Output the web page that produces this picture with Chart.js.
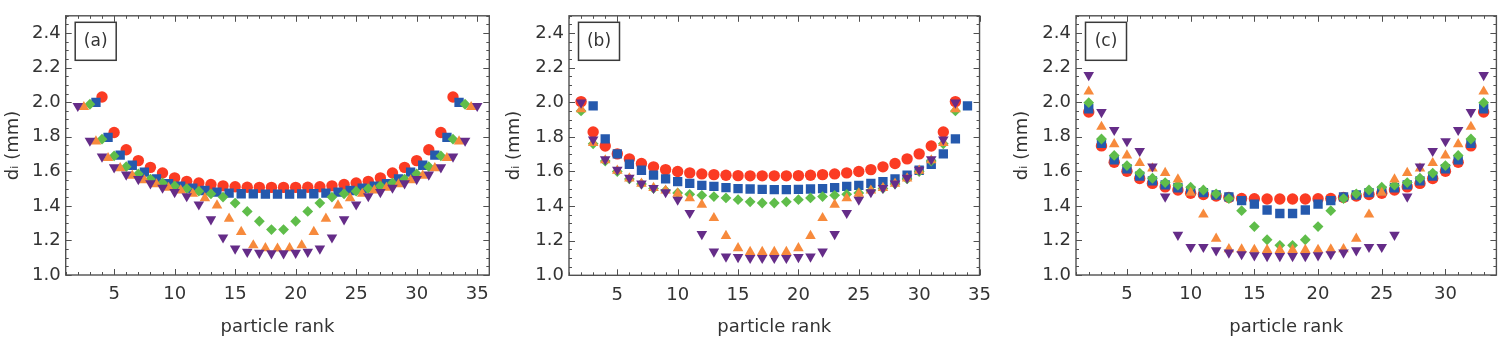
<!DOCTYPE html>
<html>
<head>
<meta charset="utf-8">
<script src="https://cdn.jsdelivr.net/npm/chart.js@4.4.1/dist/chart.umd.min.js"></script>
<style>
  html, body { margin: 0; padding: 0; background: #fff; }
  #wrap { position: relative; width: 1503px; height: 341px; overflow: hidden; }
  .panel { position: absolute; top: 0; height: 341px; }
</style>
</head>
<body>
<div id="wrap">
  <div class="panel" style="left:0"><canvas id="chA" width="500" height="341"></canvas></div>
  <div class="panel" style="left:500px"><canvas id="chB" width="500" height="341"></canvas></div>
  <div class="panel" style="left:1000px"><canvas id="chC" width="503" height="341"></canvas></div>
</div>
<script>
// ============================
// Data
// ============================
// panel (a): each series has a different particle count, centred on rank 18.5
const xA_red    = [4,5,6,7,8,9,10,11,12,13,14,15,16,17,18,19,20,21,22,23,24,25,26,27,28,29,30,31,32,33];
const yA_red    = [2.030,1.825,1.725,1.662,1.623,1.590,1.562,1.542,1.532,1.524,1.516,1.511,1.508,1.507,1.507,
                   1.507,1.507,1.508,1.511,1.516,1.524,1.532,1.542,1.562,1.590,1.623,1.662,1.725,1.825,2.030];
const xA_blue   = [3.5,4.5,5.5,6.5,7.5,8.5,9.5,10.5,11.5,12.5,13.5,14.5,15.5,16.5,17.5,18.5,
                   19.5,20.5,21.5,22.5,23.5,24.5,25.5,26.5,27.5,28.5,29.5,30.5,31.5,32.5,33.5];
const yA_blue   = [1.999,1.796,1.694,1.635,1.595,1.556,1.528,1.514,1.502,1.489,1.480,1.474,1.470,1.469,1.468,1.468,
                   1.468,1.469,1.470,1.474,1.480,1.489,1.502,1.514,1.528,1.556,1.595,1.635,1.694,1.796,1.999];
const xA_green  = [3,4,5,6,7,8,9,10,11,12,13,14,15,16,17,18,19,20,21,22,23,24,25,26,27,28,29,30,31,32,33,34];
const yA_green  = [1.988,1.786,1.689,1.627,1.585,1.555,1.533,1.515,1.500,1.485,1.470,1.451,1.416,1.368,1.311,1.263,
                   1.263,1.311,1.368,1.416,1.451,1.470,1.485,1.500,1.515,1.533,1.555,1.585,1.627,1.689,1.786,1.988];
const xA_orange = [2.5,3.5,4.5,5.5,6.5,7.5,8.5,9.5,10.5,11.5,12.5,13.5,14.5,15.5,16.5,17.5,18.5,
                   19.5,20.5,21.5,22.5,23.5,24.5,25.5,26.5,27.5,28.5,29.5,30.5,31.5,32.5,33.5,34.5];
const yA_orange = [1.972,1.773,1.677,1.618,1.575,1.548,1.525,1.505,1.490,1.470,1.445,1.403,1.326,1.249,1.172,1.155,1.153,
                   1.155,1.172,1.249,1.326,1.403,1.445,1.470,1.490,1.505,1.525,1.548,1.575,1.618,1.677,1.773,1.972];
const xA_purple = [2,3,4,5,6,7,8,9,10,11,12,13,14,15,16,17,18,19,20,21,22,23,24,25,26,27,28,29,30,31,32,33,34,35];
const yA_purple = [1.978,1.777,1.685,1.623,1.581,1.555,1.530,1.505,1.480,1.456,1.408,1.322,1.217,1.153,1.134,1.128,1.125,
                   1.125,1.128,1.134,1.153,1.217,1.322,1.408,1.456,1.480,1.505,1.530,1.555,1.581,1.623,1.685,1.777,1.978];

// panel (b): blue squares sit one rank to the right of the others
const xB        = [2,3,4,5,6,7,8,9,10,11,12,13,14,15,16,17,18,19,20,21,22,23,24,25,26,27,28,29,30,31,32,33];
const xB_blue   = [3,4,5,6,7,8,9,10,11,12,13,14,15,16,17,18,19,20,21,22,23,24,25,26,27,28,29,30,31,32,33,34];
const yB_red    = [2.004,1.828,1.747,1.702,1.673,1.646,1.627,1.611,1.600,1.592,1.586,1.582,1.578,1.576,1.575,1.575,
                   1.575,1.575,1.576,1.578,1.582,1.586,1.592,1.600,1.611,1.627,1.646,1.673,1.702,1.747,1.828,2.004];
const yB_blue   = [1.979,1.789,1.702,1.642,1.607,1.579,1.557,1.541,1.531,1.520,1.514,1.507,1.501,1.499,1.497,1.495,
                   1.495,1.497,1.499,1.501,1.507,1.514,1.520,1.531,1.541,1.557,1.579,1.607,1.642,1.702,1.789,1.979];
const yB_green  = [1.950,1.760,1.660,1.600,1.557,1.528,1.502,1.489,1.476,1.468,1.462,1.455,1.447,1.437,1.425,1.418,
                   1.418,1.425,1.437,1.447,1.455,1.462,1.468,1.476,1.489,1.502,1.528,1.557,1.600,1.660,1.760,1.950];
const yB_orange = [1.960,1.765,1.665,1.605,1.560,1.530,1.505,1.490,1.472,1.445,1.408,1.331,1.228,1.157,1.135,1.135,
                   1.135,1.135,1.157,1.228,1.331,1.408,1.445,1.472,1.490,1.505,1.530,1.560,1.605,1.665,1.765,1.960];
const yB_purple = [1.998,1.785,1.670,1.610,1.563,1.530,1.505,1.480,1.437,1.360,1.238,1.137,1.108,1.105,1.100,1.100,
                   1.100,1.100,1.105,1.108,1.137,1.238,1.360,1.437,1.480,1.505,1.530,1.563,1.610,1.670,1.785,1.998];

// panel (c)
const xC        = [2,3,4,5,6,7,8,9,10,11,12,13,14,15,16,17,18,19,20,21,22,23,24,25,26,27,28,29,30,31,32,33];
const yC_red    = [1.943,1.747,1.652,1.600,1.558,1.530,1.510,1.492,1.473,1.466,1.457,1.449,1.443,1.441,1.440,1.440,
                   1.440,1.440,1.441,1.443,1.449,1.457,1.466,1.473,1.492,1.510,1.530,1.558,1.600,1.652,1.747,1.943];
const yC_blue   = [1.962,1.762,1.667,1.615,1.572,1.545,1.522,1.505,1.487,1.477,1.463,1.452,1.430,1.410,1.376,1.356,
                   1.356,1.376,1.410,1.430,1.452,1.463,1.477,1.487,1.505,1.522,1.545,1.572,1.615,1.667,1.762,1.962];
const yC_green  = [1.997,1.787,1.692,1.633,1.590,1.560,1.535,1.520,1.508,1.492,1.470,1.442,1.372,1.280,1.204,1.172,
                   1.172,1.204,1.280,1.372,1.442,1.470,1.492,1.508,1.520,1.535,1.560,1.590,1.633,1.692,1.787,1.997];
const yC_orange = [2.062,1.858,1.757,1.692,1.648,1.617,1.591,1.553,1.476,1.350,1.210,1.150,1.148,1.146,1.145,1.145,
                   1.145,1.145,1.146,1.148,1.150,1.210,1.350,1.476,1.553,1.591,1.617,1.648,1.692,1.757,1.858,2.062];
const yC_purple = [2.157,1.943,1.839,1.774,1.718,1.628,1.454,1.232,1.162,1.162,1.143,1.130,1.120,1.114,1.109,1.109,
                   1.109,1.109,1.114,1.120,1.130,1.143,1.162,1.162,1.232,1.454,1.628,1.718,1.774,1.839,1.943,2.157];

// ticks
const xTicksAB = [5, 10, 15, 20, 25, 30, 35];
const xTicksC  = [5, 10, 15, 20, 25, 30];
const yTicks   = [1.0, 1.2, 1.4, 1.6, 1.8, 2.0, 2.2, 2.4];

// ============================
// Styles
// ============================
const FONT = "'DejaVu Sans', sans-serif";
const TEXT = "#333";
const LINE = "#505050";

const C_RED = "#fb3b23";
const C_BLUE = "#2559ad";
const C_GREEN = "#5fbd4a";
const C_ORANGE = "#f78a3c";
const C_PURPLE = "#652c88";

// frame + inward ticks on all four sides + the "(a)" box
const frameTicks = {
    id: "frameTicks",
    afterDraw(chart, args, opts) {
        const { ctx, chartArea: a, scales: { x, y } } = chart;
        ctx.save();
        ctx.strokeStyle = LINE;
        ctx.lineWidth = 1;
        ctx.beginPath();
        for (let v = Math.ceil(x.min); v <= x.max; v++) {
            const px = Math.round(x.getPixelForValue(v)) + 0.5;
            const len = (v % 5 === 0) ? 6 : 3;
            ctx.moveTo(px, a.bottom); ctx.lineTo(px, a.bottom - len);
            ctx.moveTo(px, a.top); ctx.lineTo(px, a.top + len);
        }
        for (let k = 20; k <= 50; k++) {
            const py = Math.round(y.getPixelForValue(k * 0.05)) + 0.5;
            const len = (k % 4 === 0) ? 6 : 3;
            ctx.moveTo(a.left, py); ctx.lineTo(a.left + len, py);
            ctx.moveTo(a.right, py); ctx.lineTo(a.right - len, py);
        }
        ctx.stroke();

        ctx.lineWidth = 1.4;
        ctx.strokeRect(a.left, a.top, a.right - a.left, a.bottom - a.top);

        // panel label
        const bx = a.left + 9.5, by = a.top + 6.5, bw = 41, bh = 38;
        ctx.strokeStyle = "#3a3a3a";
        ctx.lineWidth = 1.5;
        ctx.strokeRect(bx, by, bw, bh);
        ctx.fillStyle = TEXT;
        ctx.font = "17px " + FONT;
        ctx.textAlign = "center";
        ctx.textBaseline = "middle";
        ctx.fillText(opts.label, bx + bw / 2, by + bh / 2);
        ctx.restore();
    }
};

function mkSet(xs, ys, color, style, radius, rotation) {
    return {
        data: xs.map((x, i) => ({ x: x, y: ys[i] })),
        backgroundColor: color,
        borderColor: color,
        borderWidth: 0,
        pointStyle: style,
        pointRadius: radius,
        pointHoverRadius: radius,
        pointRotation: rotation || 0,
        showLine: false
    };
}

// top of the list is drawn last (on top)
function seriesSet(xP, yP, xO, yO, xG, yG, xBl, yBl, xR, yR) {
    return [
        mkSet(xP, yP, C_PURPLE, "triangle", 6.1, 180),
        mkSet(xO, yO, C_ORANGE, "triangle", 6.1, 0),
        mkSet(xG, yG, C_GREEN, "rectRot", 5.4, 0),
        mkSet(xBl, yBl, C_BLUE, "rect", 6.6, 0),
        mkSet(xR, yR, C_RED, "circle", 5.7, 0)
    ];
}

function makePanel(id, p, datasets) {
    new Chart(document.getElementById(id), {
        type: "scatter",
        data: { datasets: datasets },
        plugins: [frameTicks],
        options: {
            responsive: false,
            animation: false,
            events: [],
            layout: { padding: { left: 0, top: p.top, right: p.w - p.right, bottom: 0 } },
            plugins: {
                legend: { display: false },
                tooltip: { enabled: false },
                frameTicks: { label: p.label }
            },
            scales: {
                x: {
                    type: "linear",
                    min: p.xMin,
                    max: p.xMax,
                    grid: { display: false, drawTicks: false },
                    border: { display: false },
                    afterBuildTicks: s => { s.ticks = p.xTicks.map(v => ({ value: v })); },
                    afterFit: s => { s.height = 341 - p.bottom; },
                    ticks: {
                        font: { family: FONT, size: 18 },
                        color: TEXT,
                        padding: 9,
                        maxRotation: 0,
                        autoSkip: false,
                        callback: v => String(v)
                    },
                    title: {
                        display: true,
                        text: "particle rank",
                        font: { family: FONT, size: 18 },
                        color: TEXT,
                        padding: { top: 0, bottom: 3 }
                    }
                },
                y: {
                    type: "linear",
                    min: 1.0,
                    max: 2.5,
                    grid: { display: false, drawTicks: false },
                    border: { display: false },
                    afterBuildTicks: s => { s.ticks = yTicks.map(v => ({ value: v })); },
                    afterFit: s => { s.width = p.left; },
                    ticks: {
                        font: { family: FONT, size: 18 },
                        color: TEXT,
                        padding: 5,
                        autoSkip: false,
                        callback: v => Number(v).toFixed(1)
                    },
                    title: {
                        display: true,
                        text: "dᵢ (mm)",
                        font: { family: FONT, size: 18 },
                        color: TEXT,
                        padding: { top: p.titlePad, bottom: 0 }
                    }
                }
            }
        }
    });
}

makePanel("chA",
    { w: 500, left: 65.7, right: 489.3, top: 12.7, bottom: 275, xMin: 1, xMax: 36, xTicks: xTicksAB, label: "(a)", titlePad: 3 },
    seriesSet(xA_purple, yA_purple, xA_orange, yA_orange, xA_green, yA_green, xA_blue, yA_blue, xA_red, yA_red));

makePanel("chB",
    { w: 500, left: 69, right: 485, top: 15.7, bottom: 275.3, xMin: 1, xMax: 35, xTicks: xTicksAB, label: "(b)", titlePad: 4 },
    seriesSet(xB, yB_purple, xB, yB_orange, xB, yB_green, xB_blue, yB_blue, xB, yB_red));

makePanel("chC",
    { w: 503, left: 76, right: 500, top: 12.7, bottom: 275, xMin: 1, xMax: 34, xTicks: xTicksC, label: "(c)", titlePad: 12 },
    seriesSet(xC, yC_purple, xC, yC_orange, xC, yC_green, xC, yC_blue, xC, yC_red));
</script>
</body>
</html>
